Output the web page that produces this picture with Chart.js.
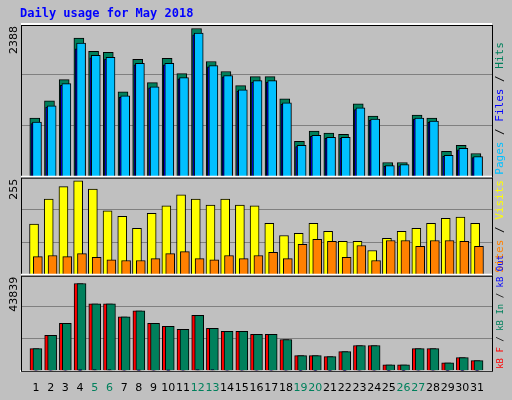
<!DOCTYPE html>
<html>
<head>
<script src="https://cdn.jsdelivr.net/npm/chart.js@4"></script>
<style>
body{margin:0;background:#fff}
#wrap{width:512px;height:400px;position:relative;background:#C0C0C0}
</style>
</head>
<body>
<div id="wrap"><canvas id="c" width="512" height="400"></canvas></div>
<script>
// data
const days = [1,2,3,4,5,6,7,8,9,10,11,12,13,14,15,16,17,18,19,20,21,22,23,24,25,26,27,28,29,30,31]
const weekend = [5,6,12,13,19,20,26,27]
const hits  = [917,1186,1518,2167,1961,1946,1328,1834,1471,1850,1613,2318,1802,1645,1423,1565,1565,1218,553,712,680,664,1139,949,221,221,964,917,395,490,363]
const files = [854,1107,1455,2088,1898,1866,1265,1771,1407,1771,1550,2246,1739,1582,1360,1502,1502,1155,490,648,617,617,1075,901,174,190,917,869,332,443,316]
const pages = [830,1090,1430,2000,1860,1840,1240,1750,1390,1750,1530,2220,1720,1560,1340,1480,1480,1130,470,630,600,600,1050,880,160,170,900,850,320,420,300]
const visits = [132,197,229,244,223,166,152,121,160,179,208,197,181,197,181,179,134,102,108,134,113,87,87,63,95,113,121,134,147,150,134]
const sites  = [47,50,47,55,45,39,37,37,42,55,60,42,39,50,42,50,58,42,79,92,87,45,76,37,89,89,74,89,89,87,74]
const kbIn  = [10152,16150,21688,39839,30620,30620,24619,27349,21688,20304,18920,25311,19381,17997,17997,16613,16613,14306,6921,6921,6460,8767,11536,11536,2769,2769,10152,10152,3692,5999,4615]
const kbF   = kbIn.map(v => v)
const kbOut = [200,150,200,600,500,500,200,400,200,400,200,500,500,200,200,200,200,200,100,100,100,100,200,200,100,100,200,200,100,100,100]
const maxVals = [2388, 255, 43839]

function shift(arr, d){ return arr.map((v,i) => ({x: days[i]+d, y: v})) }
function bar(label, arr, d, color, axis, w, order){
  return {label: label, data: shift(arr,d), backgroundColor: color, borderColor:'#000', borderWidth:1, yAxisID: axis, barThickness: w, grouped:false, order: order}
}

const panelText = {
  id:'panelText',
  afterDraw(chart){
    const ctx = chart.ctx
    ctx.save()
    ctx.font = 'bold 12px "DejaVu Sans Mono"'
    ctx.fillStyle = '#0000FF'
    ctx.fillText('Daily usage for May 2018', 20, 17)
    const ids = ['y1','y2','y3']
    const legends = [
      [['Pages','#00C0FF'],[' / ','#000'],['Files','#0000FF'],[' / ','#000'],['Hits','#00805C']],
      [['Sites','#FF8000'],[' / ','#000'],['Visits','#FFFF00']],
      [['kB F','#FF0000'],[' / ','#000'],['kB In','#00805C'],[' / ','#000'],['kB Out','#0000FF']]
    ]
    const sizes = [11, 11, 9]
    ids.forEach((id,k) => {
      const s = chart.scales[id]
      ctx.strokeStyle = '#FFF'; ctx.lineWidth = 2
      ctx.beginPath(); ctx.moveTo(chart.chartArea.left, s.top); ctx.lineTo(chart.chartArea.right, s.top); ctx.stroke()
      ctx.strokeStyle = '#000'; ctx.lineWidth = 1
      ctx.strokeRect(chart.chartArea.left+0.5, s.top+1.5, chart.chartArea.right-chart.chartArea.left, s.bottom-s.top-1)
      ctx.font = '11px "DejaVu Sans"'
      ctx.save()
      ctx.translate(17, s.top+2); ctx.rotate(-Math.PI/2)
      ctx.fillStyle = '#000'; ctx.textAlign = 'right'
      ctx.fillText(String(maxVals[k]), 0, 0)
      ctx.restore()
      ctx.font = sizes[k] + 'px "DejaVu Sans Mono"'
      ctx.save()
      ctx.translate(503, s.bottom-2); ctx.rotate(-Math.PI/2)
      let x = 0
      legends[k].forEach(p => { ctx.fillStyle = p[1]; ctx.fillText(p[0], x, 0); x += ctx.measureText(p[0]).width })
      ctx.restore()
    })
    ctx.restore()
  }
}

const yBase = {stack:'p', offset:false, border:{display:false}, grid:{color:'#808080', lineWidth:1, drawTicks:false}, beginAtZero:true}

new Chart(document.getElementById('c'), {
  type:'bar',
  data:{datasets:[
    bar('Hits', hits, -0.08, '#00805C', 'y1', 10, 3),
    bar('Pages', pages, 0.0, '#0000FF', 'y1', 10, 2),
    bar('Files', files, 0.07, '#00C0FF', 'y1', 9, 1),
    bar('Visits', visits, -0.13, '#FFFF00', 'y2', 9, 2),
    bar('Sites', sites, 0.13, '#FF8000', 'y2', 9, 1),
    bar('kB F', kbF, -0.1, '#FF0000', 'y3', 9, 3),
    bar('kB In', kbIn, 0.1, '#00805C', 'y3', 9, 2),
    bar('kB Out', kbOut, 0.0, '#0000FF', 'y3', 3, 1)
  ]},
  options:{
    responsive:false, animation:false,
    layout:{padding:{left:21, right:20, top:24, bottom:2}},
    plugins:{legend:{display:false}, tooltip:{enabled:false}},
    scales:{
      x:{type:'linear', min:0.5, max:31.5, grid:{display:false}, border:{color:'#FFF', width:2},
         afterBuildTicks: ax => { ax.ticks = days.map(d => ({value: d})) },
         ticks:{autoSkip:false, maxRotation:0, font:{size:11, family:'"DejaVu Sans"'},
           callback: v => String(v),
           color: c => weekend.includes(c.tick && c.tick.value) ? '#00805C' : '#000'}},
      y3:Object.assign({}, yBase, {max:maxVals[2], stackWeight:95, ticks:{display:false, stepSize:maxVals[2]/3}}),
      y2:Object.assign({}, yBase, {max:maxVals[1], stackWeight:97, ticks:{display:false, stepSize:maxVals[1]/3}}),
      y1:Object.assign({}, yBase, {max:maxVals[0], stackWeight:151, ticks:{display:false, stepSize:maxVals[0]/3}})
    }
  },
  plugins:[panelText]
})
</script>
</body>
</html>
